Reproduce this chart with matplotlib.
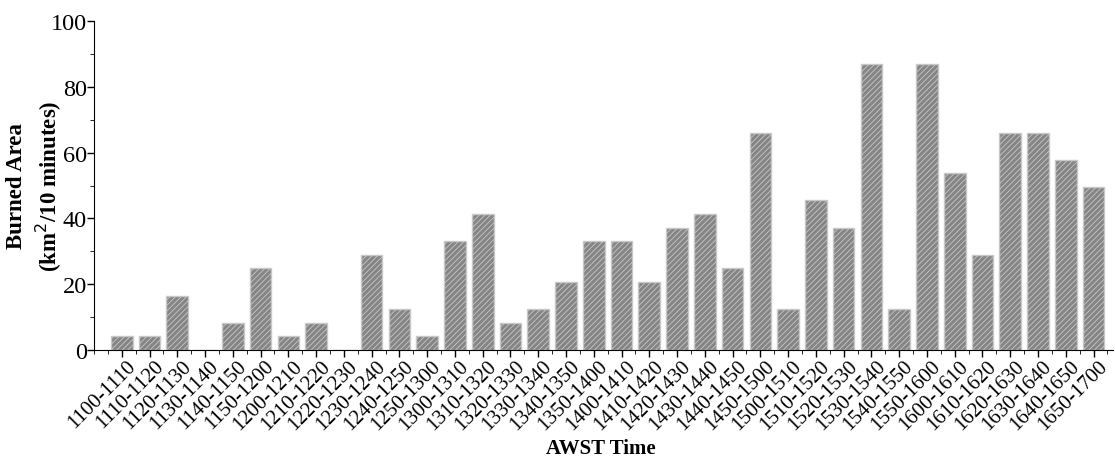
import numpy as np
import matplotlib
matplotlib.use("Agg")
import matplotlib.pyplot as plt
import matplotlib.transforms as mtransforms
from matplotlib.ticker import MultipleLocator

periods = ["1100-1110", "1110-1120", "1120-1130", "1130-1140", "1140-1150", "1150-1200",
           "1200-1210", "1210-1220", "1220-1230", "1230-1240", "1240-1250", "1250-1300",
           "1300-1310", "1310-1320", "1320-1330", "1330-1340", "1340-1350", "1350-1400",
           "1400-1410", "1410-1420", "1420-1430", "1430-1440", "1440-1450", "1450-1500",
           "1500-1510", "1510-1520", "1520-1530", "1530-1540", "1540-1550", "1550-1600",
           "1600-1610", "1610-1620", "1620-1630", "1630-1640", "1640-1650", "1650-1700"]
burned = [4.13, 4.13, 16.5, 0, 8.26, 24.8,
          4.13, 8.26, 0, 28.9, 12.4, 4.13,
          33.0, 41.3, 8.26, 12.4, 20.7, 33.0,
          33.0, 20.7, 37.2, 41.3, 24.8, 66.1,
          12.4, 45.5, 37.2, 86.8, 12.4, 86.8,
          53.7, 28.9, 66.1, 66.1, 57.9, 49.6]

plt.rcParams['font.family'] = ['Liberation Serif', 'DejaVu Serif']
plt.rcParams['hatch.linewidth'] = 0.6

fig = plt.figure(figsize=(11.15, 4.6), dpi=100)
ax = fig.add_axes([0.0843, 0.237, 0.9139, 0.715])

x = np.arange(len(periods))
ax.bar(x, burned, width=0.78, color='#858585', edgecolor='#c8c8c8',
       linewidth=1.0, hatch='//////', zorder=2)

ax.set_xlim(-1, 35.7)
ax.set_ylim(0, 100)
ax.set_xticks(x)
ax.xaxis.set_minor_locator(MultipleLocator(0.5))
ax.yaxis.set_major_locator(MultipleLocator(20))
ax.yaxis.set_minor_locator(MultipleLocator(10))
ax.tick_params(axis='y', labelsize=17.5, length=5, width=1, pad=0)
ax.tick_params(axis='y', which='minor', length=3)
ax.tick_params(axis='x', length=5, width=1, pad=3)
ax.tick_params(axis='x', which='minor', length=3)

ax.set_xticklabels(periods, rotation=45, ha='right', va='center',
                   rotation_mode='anchor', fontsize=15)
# shift the rotated labels so they sit centred under their ticks
offset = mtransforms.ScaledTranslation(0.11, -0.02, fig.dpi_scale_trans)
for lab in ax.get_xticklabels():
    lab.set_transform(lab.get_transform() + offset)

for s in ['top', 'right']:
    ax.spines[s].set_visible(False)

ax.set_ylabel('Burned Area\n(km$^2$/10 minutes)', fontsize=16.5, fontweight='bold',
              linespacing=1.3)
ax.yaxis.set_label_coords(-0.029, 0.5)
ax.set_xlabel('AWST Time', fontsize=15, fontweight='bold')
ax.xaxis.set_label_coords(0.497, -0.268)

fig.savefig('out.png', dpi=100)
